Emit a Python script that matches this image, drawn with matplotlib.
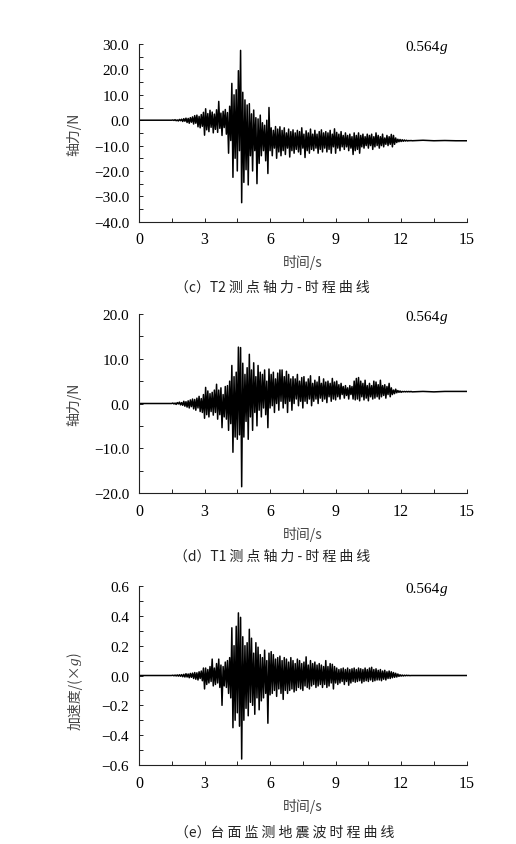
import numpy as np
import matplotlib
matplotlib.use('Agg')
import matplotlib.pyplot as plt
from matplotlib.ticker import MultipleLocator, FuncFormatter

plt.rcParams['font.family'] = ['Liberation Serif', 'Noto Sans CJK SC']
CJK = ['Noto Sans CJK SC', 'Liberation Serif']

# sampled records, dt = 0.05 s starting at 1.5 s
t0 = 1.5
dt = 0.05

# (c) T2 axial force, N
force_t2 = [
    0.0, 0.1, -0.1, 0.2, -0.2, 0.1, -0.3, 0.3, -0.2, 0.4,
    -0.5, 0.6, -0.4, 0.8, -0.9, 0.7, -1.2, 1.0, -0.8, 1.3,
    -1.5, 1.8, -1.2, 2.0, -2.6, 1.5, -3.0, 2.2, -2.4, 3.1,
    -5.9, 4.5, -3.8, 2.6, -4.5, 3.9, -2.8, 3.2, -5.0, 2.4,
    -3.6, 4.1, -4.8, 7.4, -3.2, 2.8, -6.0, 3.5, -2.9, 4.2,
    -5.5, 3.0, -13.0, 5.5, -8.0, 14.5, -22.5, 10.0, -15.0, 12.0,
    -20.0, 19.5, -12.0, 27.5, -32.5, 11.0, -24.5, 8.0, -19.5, 6.0,
    -25.5, 6.5, -14.0, 2.5, -20.0, 4.0, -12.0, 1.0, -25.0, 0.5,
    -17.0, 2.0, -14.0, -1.0, -12.0, -2.0, -16.0, 0.0, -21.0, 5.0,
    -12.0, -3.0, -14.0, -4.0, -11.0, -2.5, -15.0, -3.5, -12.5, -2.6,
    -14.0, -4.0, -12.0, -3.0, -13.5, -5.0, -11.0, -3.5, -14.5, -4.5,
    -12.0, -3.8, -13.0, -5.0, -11.5, -4.0, -12.5, -4.5, -13.5, -3.0,
    -11.0, -5.5, -14.7, -4.2, -12.0, -5.0, -13.0, -3.5, -11.5, -5.5,
    -12.0, -4.0, -11.0, -5.5, -13.0, -4.5, -11.5, -3.8, -12.5, -5.0,
    -11.0, -4.5, -12.5, -5.0, -11.5, -4.0, -13.0, -5.5, -10.5, -3.4,
    -13.0, -4.8, -11.0, -5.5, -12.0, -4.5, -10.5, -6.0, -11.5, -5.0,
    -10.5, -6.0, -12.0, -5.5, -11.0, -6.5, -13.5, -5.0, -12.0, -6.0,
    -11.5, -5.0, -13.0, -6.0, -10.5, -5.5, -11.0, -6.5, -10.0, -5.5,
    -11.0, -6.0, -10.0, -5.5, -11.5, -6.5, -10.5, -5.0, -10.0, -6.0,
    -11.0, -6.5, -10.0, -5.5, -10.5, -7.0, -9.5, -6.0, -10.0, -6.5,
    -9.5, -5.6, -10.5, -6.0, -9.5, -7.0, -8.8, -7.5, -8.5, -7.6,
    -8.4, -7.7, -8.3, -7.8, -8.2, -7.9, -8.2, -8.0, -8.1, -8.0,
]
tail_t2 = [-8.1, -7.9, -8.1, -8.0, -8.1, -8.1]

# (d) T1 axial force, N
force_t1 = [
    0.0, 0.1, -0.1, 0.1, -0.2, 0.2, -0.1, 0.3, -0.3, 0.2,
    -0.4, 0.5, -0.6, 0.4, -0.8, 0.6, -1.0, 0.8, -0.7, 1.0,
    -1.2, 0.9, -1.5, 1.2, -1.0, 1.6, -1.8, 1.1, -2.0, 2.0,
    -3.3, 3.6, -2.5, 2.8, -3.0, 2.2, -1.8, 2.5, -2.6, 3.0,
    -2.0, 4.3, -3.5, 3.0, -2.5, 3.5, -5.4, 2.0, -3.0, 3.8,
    -3.5, 4.0, -6.0, 5.0, -4.5, 8.5, -10.9, 6.0, -7.5, 7.0,
    -8.0, 12.6, -7.0, 12.5, -18.6, 9.0, -7.5, 6.5, -4.0, 8.0,
    -8.0, 11.0, -3.0, 7.5, -6.0, 9.1, -2.0, 6.0, -5.0, 8.5,
    -1.5, 7.0, -3.0, 6.5, -1.0, 7.5, -2.5, 5.0, -5.4, 7.7,
    -1.0, 6.5, -0.5, 7.0, -2.0, 5.5, 0.0, 6.8, -1.5, 7.5,
    0.5, 7.5, -1.0, 6.0, 0.0, 7.2, -2.0, 6.5, 0.5, 5.5,
    -1.5, 6.0, 0.0, 5.5, 1.0, 6.5, -0.5, 5.0, 0.5, 5.8,
    -1.0, 6.0, 0.5, 4.8, 0.0, 5.5, 1.0, 6.2, -0.5, 4.5,
    0.5, 5.2, 1.0, 4.8, 0.0, 6.0, 1.2, 4.5, 0.5, 5.5,
    1.0, 4.8, 0.2, 5.0, 1.5, 4.5, 0.5, 5.6, 1.0, 4.8,
    0.8, 5.0, 1.5, 4.2, 1.0, 4.5, 2.0, 3.8, 1.2, 4.0,
    1.8, 3.5, 1.0, 4.0, 2.0, 3.8, 1.0, 5.0, 0.8, 5.6,
    1.0, 5.8, 0.6, 5.0, 1.5, 4.5, 0.8, 5.2, 1.2, 4.0,
    0.6, 4.5, 1.5, 4.0, 1.0, 5.0, 1.2, 4.8, 1.5, 4.2,
    1.0, 5.2, 1.5, 4.0, 1.8, 4.2, 1.2, 3.8, 2.0, 4.5,
    1.5, 3.5, 2.0, 3.0, 2.2, 3.2, 2.4, 2.9, 2.5, 2.8,
    2.5, 2.7, 2.6, 2.7, 2.6, 2.7, 2.6, 2.7, 2.6, 2.7,
]
tail_t1 = [2.6, 2.7, 2.6, 2.7, 2.7, 2.7]

# (e) table acceleration, g
accel = [
    0.0, 0.002, -0.002, 0.003, -0.003, 0.004, -0.004, 0.005, -0.005, 0.006,
    -0.008, 0.008, -0.01, 0.012, -0.01, 0.01, -0.015, 0.014, -0.012, 0.016,
    -0.02, 0.02, -0.025, 0.018, -0.03, 0.025, -0.02, 0.03, -0.035, 0.05,
    -0.09, 0.05, -0.06, 0.04, -0.05, 0.06, -0.04, 0.11, -0.07, 0.05,
    -0.06, 0.08, -0.05, 0.11, -0.08, 0.07, -0.2, 0.06, -0.07, 0.09,
    -0.08, 0.1, -0.12, 0.12, -0.15, 0.32, -0.35, 0.2, -0.3, 0.33,
    -0.25, 0.42, -0.34, 0.39, -0.56, 0.26, -0.3, 0.2, -0.22, 0.22,
    -0.27, 0.31, -0.18, 0.25, -0.2, 0.15, -0.26, 0.22, -0.15, 0.19,
    -0.23, 0.14, -0.17, 0.12, -0.15, 0.17, -0.12, 0.1, -0.32, 0.15,
    -0.13, 0.16, -0.12, 0.14, -0.1, 0.11, -0.14, 0.12, -0.09, 0.13,
    -0.12, 0.1, -0.16, 0.12, -0.1, 0.11, -0.12, 0.09, -0.1, 0.12,
    -0.09, 0.1, -0.11, 0.08, -0.1, 0.11, -0.08, 0.1, -0.09, 0.08,
    -0.1, 0.09, -0.07, 0.125, -0.08, 0.07, -0.09, 0.1, -0.07, 0.08,
    -0.06, 0.09, -0.08, 0.07, -0.07, 0.08, -0.06, 0.07, -0.08, 0.06,
    -0.06, 0.1, -0.08, 0.06, -0.07, 0.08, -0.05, 0.075, -0.09, 0.06,
    -0.05, 0.05, -0.06, 0.04, -0.05, 0.045, -0.04, 0.05, -0.06, 0.04,
    -0.04, 0.05, -0.065, 0.04, -0.05, 0.045, -0.04, 0.05, -0.045, 0.04,
    -0.04, 0.05, -0.035, 0.045, -0.05, 0.04, -0.04, 0.05, -0.035, 0.04,
    -0.04, 0.05, -0.03, 0.055, -0.04, 0.04, -0.035, 0.045, -0.03, 0.035,
    -0.03, 0.04, -0.035, 0.03, -0.025, 0.035, -0.03, 0.025, -0.02, 0.03,
    -0.02, 0.025, -0.015, 0.02, -0.012, 0.015, -0.01, 0.01, -0.006, 0.005,
    -0.004, 0.003, -0.003, 0.002, -0.002, 0.002, -0.001, 0.001, -0.001, 0.0,
]
tail_acc = [0.0, 0.0, 0.0, 0.0, 0.0, 0.0]

tail_times = [12.5, 13.0, 13.5, 14.0, 14.5, 15.0]


def series(vals, tail):
    t = np.concatenate([[0.0], t0 + dt * np.arange(len(vals)), tail_times])
    y = np.concatenate([[0.0], vals, tail])
    return t, y


def fmt(v, pos):
    s = f'{v + 0.0:.1f}'
    if s == '-0.0':
        s = '0.0'
    return s.replace('-', '\u2212')


panels = [
    dict(vals=force_t2, tail=tail_t2, ylim=(-40, 30), major=10, minor=5,
         ylabel='轴力/N', caption='（c）T2 测 点 轴 力 - 时 程 曲 线',
         rect=[0.2694, 0.7364, 0.635, 0.2103], cap_x=0.527, cap_y=0.660),
    dict(vals=force_t1, tail=tail_t1, ylim=(-20, 20), major=10, minor=5,
         ylabel='轴力/N', caption='（d）T1 测 点 轴 力 - 时 程 曲 线',
         rect=[0.2694, 0.4154, 0.635, 0.2118], cap_x=0.527, cap_y=0.341),
    dict(vals=accel, tail=tail_acc, ylim=(-0.6, 0.6), major=0.2, minor=0.1,
         ylabel=None, caption='（e）台 面 监 测 地 震 波 时 程 曲 线',
         rect=[0.2694, 0.0935, 0.635, 0.2118], cap_x=0.552, cap_y=0.0142),
]

fig = plt.figure(figsize=(5.16, 8.45), dpi=100)
lab_color = '#444444'

for p in panels:
    ax = fig.add_axes(p['rect'])
    t, y = series(p['vals'], p['tail'])
    ax.plot(t, y, color='black', lw=1.1)
    ax.set_xlim(0, 15)
    ax.set_ylim(*p['ylim'])
    ax.spines['top'].set_visible(False)
    ax.spines['right'].set_visible(False)
    for s in ('left', 'bottom'):
        ax.spines[s].set_linewidth(0.8)
        ax.spines[s].set_color('#222222')
    ax.xaxis.set_major_locator(MultipleLocator(3))
    ax.xaxis.set_minor_locator(MultipleLocator(1.5))
    ax.yaxis.set_major_locator(MultipleLocator(p['major']))
    ax.yaxis.set_minor_locator(MultipleLocator(p['minor']))
    ax.yaxis.set_major_formatter(FuncFormatter(fmt))
    ax.tick_params(which='both', direction='in', length=3, width=0.7,
                   pad=7, color='#222222')
    ax.tick_params(axis='x', labelsize=11.5)
    ax.tick_params(axis='y', labelsize=11)
    ax.set_xlabel('时间/s', fontsize=10, labelpad=5, color=lab_color,
                  family=CJK, fontweight='light')
    if p['ylabel']:
        ax.set_ylabel(p['ylabel'], fontsize=10, labelpad=9, color=lab_color,
                      family=CJK, fontweight='light')
    else:
        # 加速度/(×g) with an italic g
        lab = ax.text(-0.195, 0.2, '加速度/(×', transform=ax.transAxes,
                      rotation=90, ha='center', va='bottom', fontsize=10,
                      color=lab_color, family=CJK, fontweight='light')
        g = ax.annotate('g', xy=(0.5, 1), xycoords=lab, rotation=90,
                        ha='center', va='bottom', fontsize=11,
                        color=lab_color, style='italic',
                        family='Liberation Serif')
        ax.annotate(')', xy=(0.45, 1), xycoords=g, rotation=90,
                    ha='center', va='bottom', fontsize=10, color=lab_color,
                    family=CJK, fontweight='light')
    t1 = ax.text(0.918, 0.985, '0.564', transform=ax.transAxes, ha='right',
                 va='center', fontsize=11)
    ax.annotate('g', xy=(1, 0), xycoords=t1, ha='left', va='bottom',
                fontsize=11, style='italic')
    fig.text(p['cap_x'], p['cap_y'], p['caption'], ha='center', va='center',
             fontsize=10, color='#222222', family=CJK, fontweight='light')

fig.savefig('out.png', dpi=100)
